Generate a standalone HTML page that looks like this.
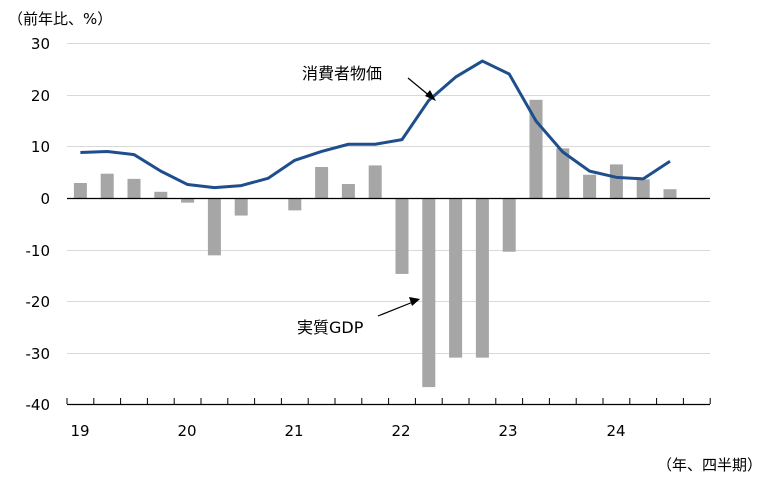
<!DOCTYPE html><html><head><meta charset="utf-8"><style>body{margin:0;background:#fff}</style></head><body>
<svg width="774" height="492" xmlns="http://www.w3.org/2000/svg" font-family="'DejaVu Sans','Noto Sans CJK JP',sans-serif">
<g stroke="#d9d9d9" stroke-width="1">
<line x1="67" x2="710" y1="43.5" y2="43.5"/><line x1="67" x2="710" y1="95.5" y2="95.5"/><line x1="67" x2="710" y1="146.5" y2="146.5"/>
<line x1="67" x2="710" y1="250.5" y2="250.5"/><line x1="67" x2="710" y1="301.5" y2="301.5"/><line x1="67" x2="710" y1="353.5" y2="353.5"/>
</g>
<g font-size="15" fill="#000" text-anchor="end">
<text x="50" y="49">30</text><text x="50" y="101">20</text><text x="50" y="152">10</text><text x="50" y="204">0</text>
<text x="50" y="256">-10</text><text x="50" y="307">-20</text><text x="50" y="359">-30</text><text x="50" y="410">-40</text>
</g>
<text x="8" y="24" font-size="15">（前年比、%）</text>
<g id="bars" fill="#a6a6a6"></g>
<line x1="67" x2="710" y1="198.5" y2="198.5" stroke="#000" stroke-width="1.2"/>
<line x1="67" x2="710" y1="404.5" y2="404.5" stroke="#000" stroke-width="1.2"/>
<g id="ticks" stroke="#000" stroke-width="1"></g>
<polyline id="ln" fill="none" stroke="#1f4e8c" stroke-width="3" stroke-linejoin="round"/>
<g font-size="15" text-anchor="middle">
<text x="80" y="436">19</text><text x="187" y="436">20</text><text x="294" y="436">21</text><text x="401" y="436">22</text><text x="508" y="436">23</text><text x="616" y="436">24</text>
</g>
<text x="762" y="470" font-size="15" text-anchor="end">（年、四半期）</text>
<text x="302" y="79" font-size="16">消費者物価</text>
<line x1="408" y1="78" x2="431" y2="97" stroke="#000" stroke-width="1.2"/>
<polygon points="436,101 425,96 430,90" fill="#000"/>
<text x="297" y="333" font-size="16">実質GDP</text>
<line x1="378" y1="316" x2="413" y2="302" stroke="#000" stroke-width="1.2"/>
<polygon points="420,299 409,297 412,306" fill="#000"/>
<script>
var b=[3,4.8,3.8,1.3,-0.8,-11,-3.3,0,-2.3,6.1,2.8,6.4,-14.6,-36.5,-30.8,-30.8,-10.3,19.1,9.7,4.6,6.6,3.7,1.8];
var l=[8.9,9.1,8.5,5.3,2.7,2.1,2.5,3.9,7.4,9.1,10.5,10.5,11.4,19,23.5,26.6,24.1,15,9,5.3,4.1,3.8,7.2];
var s=5.167,z=198.5,ns="http://www.w3.org/2000/svg",g=document.getElementById('bars'),p=[];
b.forEach(function(v,i){var x=80.4+26.8*i,r=document.createElementNS(ns,'rect');r.setAttribute('x',x-6.5);r.setAttribute('width',13);r.setAttribute('y',v>0?z-v*s:z);r.setAttribute('height',Math.abs(v*s));g.appendChild(r);p.push(x+','+(z-l[i]*s));});
document.getElementById('ln').setAttribute('points',p.join(' '));
var t=document.getElementById('ticks');for(var i=0;i<=24;i++){var x=67+26.8*i,e=document.createElementNS(ns,'line');e.setAttribute('x1',x);e.setAttribute('x2',x);e.setAttribute('y1',398);e.setAttribute('y2',404);t.appendChild(e);}
</script>
</svg></body></html>
